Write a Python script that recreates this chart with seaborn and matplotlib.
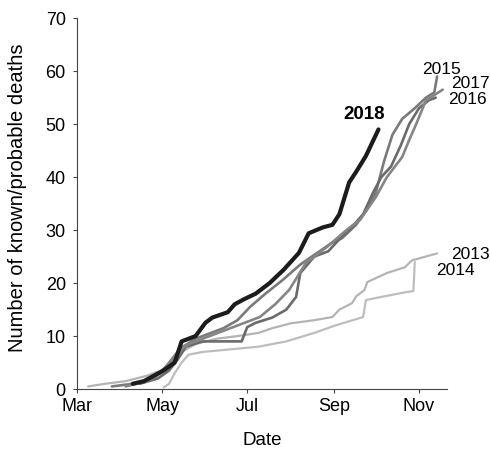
import numpy as np
import pandas as pd
import matplotlib
matplotlib.use("Agg")
import matplotlib.pyplot as plt
import matplotlib.dates as mdates
import seaborn as sns

# Days since 1 March and cumulative known/probable deaths, per season
days_2013 = [8, 20, 35, 50, 60, 68, 75, 85, 100, 115, 130, 140, 153, 170, 183, 188, 197, 200, 206, 208, 222, 235, 240, 258]
vals_2013 = [0.5, 1, 1.5, 2.5, 3.5, 5, 7, 8.5, 9.5, 10, 10.6, 11.5, 12.4, 13, 13.6, 15, 16.2, 17.5, 18.7, 20.2, 21.9, 23, 24.3, 25.6]

days_2014 = [62, 66, 70, 75, 80, 90, 110, 130, 150, 170, 185, 205, 207, 220, 236, 241, 242]
vals_2014 = [0.3, 1, 3, 5, 6.5, 7, 7.5, 8, 9, 10.6, 12, 13.6, 16.8, 17.5, 18.3, 18.5, 24]

days_2015 = [25, 40, 55, 63, 70, 76, 85, 95, 105, 115, 124, 135, 147, 160, 171, 182, 190, 200, 208, 214, 220, 226, 233, 242, 250, 256, 258]
vals_2015 = [0.5, 1, 2, 4, 6, 8, 9.5, 10.5, 11.5, 13, 15.5, 18, 20.5, 23.5, 25.5, 27.5, 28.5, 31, 34, 37, 43, 48, 51, 53, 55, 56, 59]

days_2016 = [45, 58, 66, 72, 78, 90, 105, 118, 122, 128, 140, 150, 157, 160, 170, 180, 187, 195, 205, 212, 218, 225, 232, 238, 245, 252, 257]
vals_2016 = [1, 2, 3.5, 5.5, 8, 9, 9, 9, 11.7, 12.5, 13.5, 15, 17.4, 21.9, 25, 26, 28, 30, 33, 37, 40, 42, 46, 50, 53, 54.5, 55]

days_2017 = [35, 50, 60, 66, 72, 80, 90, 100, 110, 120, 131, 142, 152, 164, 179, 193, 203, 214, 222, 233, 238, 243, 250, 256, 262]
vals_2017 = [0.5, 1.5, 3, 5, 7, 8.5, 9.5, 10.5, 11.5, 12.5, 13.6, 16, 18.7, 23.8, 26.8, 30, 32, 36.2, 40, 43.8, 47, 50, 54.5, 55.5, 56.5]

days_2018 = [40, 48, 55, 62, 70, 75, 85, 92, 97, 108, 113, 120, 128, 138, 148, 159, 166, 176, 183, 188, 195, 200, 207, 216]
vals_2018 = [1, 1.5, 2.5, 3.5, 5, 9, 10, 12.5, 13.5, 14.5, 16, 17, 18, 20, 22.5, 25.7, 29.4, 30.5, 31, 33, 39, 41, 44, 49]

base = pd.Timestamp("2018-03-01")

def to_dates(days):
    return [base + pd.Timedelta(days=d) for d in days]

series = [
    ("2013", days_2013, vals_2013, "#b4b4b4", 1.6),
    ("2014", days_2014, vals_2014, "#bdbdbd", 1.6),
    ("2015", days_2015, vals_2015, "#7a7a7a", 1.9),
    ("2016", days_2016, vals_2016, "#6a6a6a", 1.9),
    ("2017", days_2017, vals_2017, "#858585", 1.9),
    ("2018", days_2018, vals_2018, "#1c1c1c", 3.0),
]

sns.set_style("ticks")
plt.rcParams["font.family"] = ["Liberation Sans", "DejaVu Sans"]
plt.rcParams["text.color"] = "#000000"
plt.rcParams["axes.labelcolor"] = "#000000"
plt.rcParams["xtick.labelcolor"] = "#000000"
plt.rcParams["ytick.labelcolor"] = "#000000"

fig = plt.figure(figsize=(4.9, 4.54), dpi=100)
ax = fig.add_axes([0.157, 0.143, 0.755, 0.817])

for name, d, v, col, lw in series:
    df = pd.DataFrame({"Date": to_dates(d), "Deaths": v})
    sns.lineplot(data=df, x="Date", y="Deaths", ax=ax, color=col, linewidth=lw,
                 estimator=None, sort=False)

# Year labels
labels = [
    ("2018", 206, 51.8, True, 13.5),
    ("2015", 261, 60.3, False, 12.5),
    ("2017", 282, 57.6, False, 12.5),
    ("2016", 280, 54.6, False, 12.5),
    ("2013", 282, 25.4, False, 12.5),
    ("2014", 271, 22.3, False, 12.5),
]
for txt, d, y, bold, fs in labels:
    ax.text(base + pd.Timedelta(days=d), y, txt, fontsize=fs,
            fontweight="bold" if bold else "normal", ha="center", va="center",
            clip_on=False, color="#000000")

ax.set_ylim(0, 70)
ax.set_yticks(range(0, 71, 10))
ax.set_xlim(base, base + pd.Timedelta(days=265))
ticks = [pd.Timestamp(s) for s in ["2018-03-01", "2018-05-01", "2018-07-01", "2018-09-01", "2018-11-01"]]
ax.set_xticks(ticks)
ax.xaxis.set_major_formatter(mdates.DateFormatter("%b"))

ax.set_xlabel("Date", fontsize=13.5, color="#000000")
ax.set_ylabel("Number of known/probable deaths", fontsize=14.5, color="#000000")
ax.yaxis.set_label_coords(-0.135, 0.515)
ax.xaxis.set_label_coords(0.5, -0.115)
ax.xaxis.label.set_verticalalignment("top")
ax.tick_params(axis="both", labelsize=13, length=3, width=0.8, color="#444444",
               labelcolor="#000000")
ax.tick_params(axis="y", pad=5)
for s in ["left", "bottom"]:
    ax.spines[s].set_linewidth(0.8)
    ax.spines[s].set_color("#444444")
sns.despine(ax=ax)

fig.savefig("out.png", dpi=100)
